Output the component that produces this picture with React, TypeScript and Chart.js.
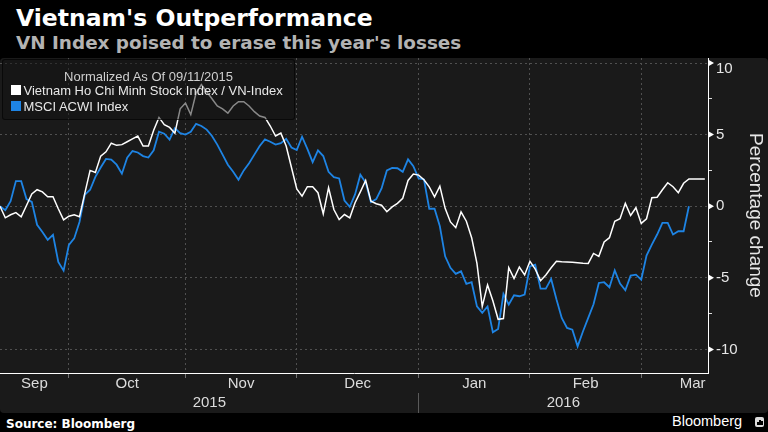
import React, { useEffect, useRef } from 'react';
import { Chart, registerables } from 'chart.js';

Chart.register(...registerables);

// Trading-day index (0 = 11 Sep 2015) -> % change since 09/11/2015
const vnIndex = [
  0, -0.81, -0.6, -0.45, -0.74, 0.05, 0.85, 1.15, 1.0, 0.66,
  0.66, -0.18, -0.95, -0.7, -0.6, -0.74, 0.9, 2.5, 2.36, 3.5,
  3.8, 4.4, 4.25, 4.3, 4.5, 4.7, 4.9, 4.2, 4.2, 5.3,
  6.2, 5.7, 5.5, 5.1, 6.8, 7.2, 6.4, 7.9, 8.5, 8.0,
  7.5, 7.0, 6.8, 6.5, 7.0, 7.3, 7.3, 7.0, 6.6, 6.3,
  6.2, 5.6, 4.9, 5.1, 4.2, 2.7, 1.2, 0.7, 1.36, 1.36,
  0.94, -0.53, 1.29, -0.23, -0.93, -0.58, -0.81, 0.24, 1.0, 1.8,
  0.35, 0.17, 0.07, -0.39, -0.05, 0.2, 0.55, 1.8, 2.25, 2.17,
  1.85, 1.35, 0.65, 1.4, -0.15, -1.1, -1.5, -0.4, -1.05, -2.2,
  -4.0, -7.0, -5.5, -6.6, -7.9, -7.85, -4.3, -5.05, -4.25, -4.8,
  -3.85, -4.4, -5.2, -4.8, -4.3, -3.85, -3.88, -3.9, -3.92, -3.95,
  -3.98, -4.0, -3.3, -3.5, -2.5, -2.2, -1.05, -0.88, 0.2, -0.65,
  -0.11, -1.2, -0.88, 0.59, 0.63, 1.15, 1.64, 1.36, 0.94, 1.6,
  1.9, 1.9, 1.9, 1.9,
];

const msciAcwi = [
  0, -0.28, 0.35, 1.75, 1.75, 0.5, 0.3, -1.3, -1.8, -2.35,
  -2.0, -3.9, -4.5, -2.7, -2.25, -1.1, 0.8, 1.15, 2.05, 2.7,
  3.3, 3.25, 2.9, 2.27, 3.38, 3.85, 3.75, 3.5, 3.4, 3.9,
  5.2, 5.06, 4.65, 5.45, 5.1, 5.0, 5.2, 5.75, 5.6, 5.35,
  4.9, 4.3, 3.6, 2.9, 2.4, 1.85, 2.5, 3.0, 3.6, 4.2,
  4.66, 4.5, 4.3, 4.4, 4.7, 4.1, 3.92, 4.85, 4.0, 3.08,
  3.9, 3.5, 2.4, 2.03, 1.94, 0.4, -0.04, 0.82, 2.2, 1.65,
  0.28, 0.5, 1.24, 2.5, 2.67, 2.65, 2.4, 3.27, 2.8, 1.94,
  1.87, -0.18, -0.18, -1.4, -3.5, -4.3, -4.73, -4.55, -5.43, -5.31,
  -7.0, -7.45, -7.0, -8.8, -8.57, -6.13, -6.87, -6.22, -6.29, -6.17,
  -4.2, -4.08, -5.76, -5.76, -5.08, -6.5, -7.8, -8.5, -8.62, -9.79,
  -8.75, -7.8, -6.85, -5.36, -5.31, -5.66, -4.48, -5.41, -5.87, -4.85,
  -4.78, -5.13, -3.45, -2.68, -1.98, -1.16, -1.16, -1.98, -1.75, -1.75,
  0.0,
];

const monthEnds = [13, 35, 56, 79, 100, 121];
const monthLabels = ['Sep', 'Oct', 'Nov', 'Dec', 'Jan', 'Feb', 'Mar'];
const monthLabelAt = [6.5, 24, 45.5, 67.5, 89.5, 110.5, 130.7];
const yearLabels = ['2015', '2016'];
const yearBoundary = 79;
const yMajorTicks = [-10, -5, 0, 5, 10];
const yMinorTicks = [-7.5, -2.5, 2.5, 7.5];

const X_MAX = 133.6;
const Y_MIN = -11.65;
const Y_MAX = 10.35;
const TOP_LABEL_AT = 9.6;

const SANS = '"Liberation Sans", Arial, sans-serif';
const BOLD = '"DejaVu Sans", sans-serif';
const BLUE = '#1e84e4';
const GRID = '#505050';

const axisMarkers = {
  id: 'axisMarkers',
  afterDraw(chart: any) {
    const s = chart.scales.y;
    const ctx = chart.ctx;
    ctx.save();
    ctx.fillStyle = '#ffffff';
    for (const v of yMajorTicks) {
      const py = s.getPixelForValue(v);
      ctx.beginPath();
      ctx.moveTo(s.left, py - 3.5);
      ctx.lineTo(s.left + 6, py);
      ctx.lineTo(s.left, py + 3.5);
      ctx.closePath();
      ctx.fill();
    }
    ctx.restore();
  },
};

export default function App() {
  const ref = useRef<HTMLCanvasElement | null>(null);

  useEffect(() => {
    if (!ref.current) return;
    Chart.defaults.font.family = SANS;
    const yTicks = [...yMajorTicks, ...yMinorTicks, TOP_LABEL_AT].sort((a, b) => a - b);
    const isMajor = (v: number) => yMajorTicks.some((m) => Math.abs(m - v) < 1e-6);
    const isMinor = (v: number) => yMinorTicks.some((m) => Math.abs(m - v) < 1e-6);
    const yearTicks = [yearBoundary / 2, yearBoundary, (yearBoundary + X_MAX) / 2];

    const chart = new Chart(ref.current, {
      type: 'line',
      data: {
        datasets: [
          {
            label: 'Vietnam Ho Chi Minh Stock Index / VN-Index',
            data: vnIndex.map((y, x) => ({ x, y })),
            borderColor: '#ffffff',
            borderWidth: 1.5,
            pointRadius: 0,
            tension: 0,
            xAxisID: 'x',
            yAxisID: 'y',
          },
          {
            label: 'MSCI ACWI Index',
            data: msciAcwi.map((y, x) => ({ x, y })),
            borderColor: BLUE,
            borderWidth: 1.8,
            pointRadius: 0,
            tension: 0,
            xAxisID: 'x',
            yAxisID: 'y',
          },
        ],
      },
      options: {
        animation: false,
        responsive: false,
        maintainAspectRatio: false,
        devicePixelRatio: 1,
        layout: { padding: { top: 20, left: 0, right: 0, bottom: 0 } },
        plugins: {
          legend: { display: false },
          tooltip: { enabled: false },
        },
        scales: {
          x: {
            type: 'linear',
            position: 'bottom',
            min: 0,
            max: X_MAX,
            afterBuildTicks: (s: any) => {
              s.ticks = monthEnds.map((v) => ({ value: v }));
            },
            afterFit: (s: any) => {
              s.height = 0;
            },
            ticks: { display: false },
            grid: {
              color: GRID,
              lineWidth: 1,
              drawTicks: true,
              tickLength: 5,
              tickColor: '#707070',
            },
            border: { display: true, color: '#ffffff', width: 1, dash: [2, 3] },
          },
          xm: {
            type: 'linear',
            position: 'bottom',
            min: 0,
            max: X_MAX,
            afterBuildTicks: (s: any) => {
              s.ticks = monthLabelAt.map((v) => ({ value: v }));
            },
            afterFit: (s: any) => {
              s.height = 20;
            },
            ticks: {
              autoSkip: false,
              maxRotation: 0,
              padding: 2,
              color: '#dcdcdc',
              font: { size: 15, family: SANS },
              callback: (_v: any, i: number) => monthLabels[i],
            },
            grid: { display: false, drawTicks: false },
            border: { display: false },
          },
          xy: {
            type: 'linear',
            position: 'bottom',
            min: 0,
            max: X_MAX,
            afterBuildTicks: (s: any) => {
              s.ticks = yearTicks.map((v) => ({ value: v }));
            },
            afterFit: (s: any) => {
              s.height = 20;
            },
            ticks: {
              autoSkip: false,
              maxRotation: 0,
              padding: -19,
              color: '#dcdcdc',
              font: { size: 15, family: SANS },
              callback: (_v: any, i: number) => (i === 0 ? yearLabels[0] : i === 2 ? yearLabels[1] : ''),
            },
            grid: {
              display: true,
              drawOnChartArea: false,
              drawTicks: true,
              tickLength: 20,
              color: 'transparent',
              tickColor: (c: any) => (c.tick && c.tick.value === yearBoundary ? '#5a5a5a' : 'transparent'),
            },
            border: { display: false },
          },
          y: {
            type: 'linear',
            position: 'right',
            min: Y_MIN,
            max: Y_MAX,
            afterBuildTicks: (s: any) => {
              s.ticks = yTicks.map((v) => ({ value: v }));
            },
            afterFit: (s: any) => {
              s.width = 60;
            },
            ticks: {
              autoSkip: false,
              padding: 4,
              color: '#e6e6e6',
              font: { size: 15, family: SANS },
              callback: (v: any) => {
                const n = Number(v);
                if (Math.abs(n - TOP_LABEL_AT) < 1e-6) return '10';
                if (Math.abs(n - 10) < 1e-6) return '';
                return isMajor(n) ? String(n) : '';
              },
            },
            grid: {
              color: (c: any) => (c.tick && isMajor(c.tick.value) ? GRID : 'transparent'),
              drawTicks: true,
              tickLength: 4,
              tickColor: (c: any) => (c.tick && isMinor(c.tick.value) ? '#dddddd' : 'transparent'),
            },
            border: { display: true, color: '#ffffff', width: 1, dash: [2, 3] },
            title: {
              display: true,
              text: 'Percentage change',
              color: '#e6e6e6',
              font: { size: 19, family: SANS },
              padding: { top: 1.5, bottom: 0 },
            },
          },
        },
      } as any,
      plugins: [axisMarkers],
    });
    return () => chart.destroy();
  }, []);

  return (
    <div
      style={{
        position: 'fixed',
        left: 0,
        top: 0,
        width: 768,
        height: 432,
        background: '#000000',
        overflow: 'hidden',
      }}
    >
      <div
        style={{
          position: 'absolute',
          left: 16,
          top: 7,
          fontFamily: BOLD,
          fontWeight: 'bold',
          fontSize: 23.5,
          lineHeight: '23.5px',
          color: '#ffffff',
          whiteSpace: 'nowrap',
        }}
      >
        Vietnam's Outperformance
      </div>
      <div
        style={{
          position: 'absolute',
          left: 16,
          top: 33.7,
          fontFamily: BOLD,
          fontWeight: 'bold',
          fontSize: 18.4,
          lineHeight: '18.4px',
          color: '#b3b3b3',
          whiteSpace: 'nowrap',
        }}
      >
        VN Index poised to erase this year's losses
      </div>
      <div
        style={{
          position: 'absolute',
          left: 0,
          top: 58,
          width: 768,
          height: 355,
          background: '#1a1a1a',
          borderRadius: 4,
        }}
      />
      <canvas
        ref={ref}
        width={768}
        height={375}
        style={{ position: 'absolute', left: 0, top: 38, width: 768, height: 375 }}
      />
      <div
        style={{
          position: 'absolute',
          left: 2,
          top: 59,
          width: 293,
          height: 61,
          boxSizing: 'border-box',
          background: 'rgba(18,18,18,0.5)',
          border: '1px solid rgba(0,0,0,0.55)',
          borderRadius: 3,
          fontFamily: SANS,
          fontSize: 13,
          lineHeight: '15px',
          color: '#e8e8e8',
        }}
      >
        <div style={{ position: 'absolute', left: 0, right: 0, top: 8.5, textAlign: 'center', color: '#cfcfcf', whiteSpace: 'nowrap' }}>
          Normalized As Of 09/11/2015
        </div>
        <div style={{ position: 'absolute', left: 7.5, top: 25, width: 10, height: 10, background: '#ffffff' }} />
        <div style={{ position: 'absolute', left: 20.5, top: 22.5, whiteSpace: 'nowrap' }}>
          Vietnam Ho Chi Minh Stock Index / VN-Index
        </div>
        <div style={{ position: 'absolute', left: 7.5, top: 41, width: 10, height: 10, background: BLUE }} />
        <div style={{ position: 'absolute', left: 20.5, top: 38.5, whiteSpace: 'nowrap' }}>MSCI ACWI Index</div>
      </div>
      <div
        style={{
          position: 'absolute',
          left: 6,
          top: 417.5,
          fontFamily: BOLD,
          fontWeight: 'bold',
          fontSize: 12,
          lineHeight: '12px',
          color: '#ffffff',
          whiteSpace: 'nowrap',
        }}
      >
        Source: Bloomberg
      </div>
      <div
        style={{
          position: 'absolute',
          left: 672,
          top: 413.7,
          fontFamily: SANS,
          fontSize: 14.5,
          lineHeight: '14.5px',
          color: '#ffffff',
          whiteSpace: 'nowrap',
        }}
      >
        Bloomberg
      </div>
      <div
        style={{
          position: 'absolute',
          left: 755,
          top: 417,
          width: 9,
          height: 10,
          background: '#dcdcdc',
          borderRadius: 2,
        }}
      >
        <div style={{ position: 'absolute', left: 2, top: 5, width: 1.5, height: 3, background: '#000' }} />
        <div style={{ position: 'absolute', left: 4, top: 3, width: 1.5, height: 5, background: '#000' }} />
        <div style={{ position: 'absolute', left: 6, top: 4, width: 1.5, height: 4, background: '#000' }} />
      </div>
    </div>
  );
}
